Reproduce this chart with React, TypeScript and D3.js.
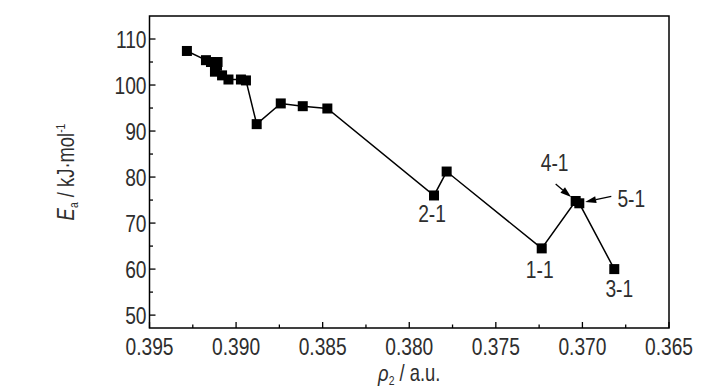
import * as d3 from 'd3'

// rho2 (a.u.) and activation energy (kJ/mol)
const rho = [0.39284, 0.39174, 0.39145, 0.39107, 0.3911, 0.39122, 0.39081, 0.39044, 0.38972, 0.38943,
  0.38881, 0.38742, 0.38615, 0.38473, 0.37857, 0.37784, 0.37235, 0.37039, 0.37018, 0.36816]
const ea = [107.4, 105.4, 105.0, 105.0, 104.2, 102.9, 102.1, 101.2, 101.2, 101.0,
  91.5, 96.0, 95.4, 94.9, 76.0, 81.2, 64.5, 74.8, 74.3, 60.0]

// sample tags and the point they belong to
const tagNames = ['2-1', '1-1', '3-1', '4-1', '5-1']
const tagPoints = [14, 16, 19, 17, 18]

const xTicks = [0.395, 0.39, 0.385, 0.38, 0.375, 0.37, 0.365]
const yTicks = [50, 60, 70, 80, 90, 100, 110]

const W = 728
const H = 390
const margin = { top: 16, right: 59, bottom: 62, left: 149.5 }
const FONT = 'Liberation Sans, Arial, sans-serif'
const TXT = '#2e2e2e'
const FS = 24
const SX = 0.8

const CText = ({ x, y, anchor = 'middle', size = FS, children }: any) => (
  <text transform={`translate(${x},${y}) scale(${SX},1)`} textAnchor={anchor}
    fontSize={size} fontFamily={FONT} fill={TXT}>{children}</text>
)

export default function App() {
  const x = d3.scaleLinear().domain([0.395, 0.365]).range([margin.left, W - margin.right])
  const y = d3.scaleLinear().domain([47.2, 115]).range([H - margin.bottom, margin.top])
  const [x0, x1] = x.range()
  const [y0, y1] = y.range()

  const pts = rho.map((r, i) => [r, ea[i]] as [number, number])
  const line = d3.line<[number, number]>().x(d => x(d[0])).y(d => y(d[1]))

  const xMinor = d3.range(0.3925, 0.365, -0.005)
  const yMinor = d3.range(55, 115, 10)

  // label offsets relative to the point
  const tagOff: Record<string, [number, number]> = {
    '2-1': [-2, 27], '1-1': [-2, 30], '3-1': [5, 28], '4-1': [-21, -30], '5-1': [52, 4],
  }

  return (
    <svg width={W} height={H} style={{ position: 'absolute', left: 0, top: 0, background: '#fff' }}>
      <path d={line(pts) ?? ''} fill="none" stroke="#000" strokeWidth={1.5} />
      {pts.map((d, i) => (
        <rect key={i} x={x(d[0]) - 5} y={y(d[1]) - 5} width={10} height={10} fill="#000" />
      ))}

      {/* arrows for 4-1 and 5-1 */}
      {[[17, -20, -17], [18, 32, -7]].map(([idx, dx, dy], k) => {
        const px = x(rho[idx]), py = y(ea[idx])
        const ang = Math.atan2(dy, dx)
        const tipX = px + Math.cos(ang) * 6, tipY = py + Math.sin(ang) * 6
        const sx = px + dx, sy = py + dy
        const hl = 11, hw = 3.5
        const bx = tipX + Math.cos(ang) * hl, by = tipY + Math.sin(ang) * hl
        const nx = -Math.sin(ang) * hw, ny = Math.cos(ang) * hw
        return (
          <g key={k}>
            <line x1={sx} y1={sy} x2={bx} y2={by} stroke="#000" strokeWidth={1.3} />
            <path d={`M${tipX},${tipY}L${bx + nx},${by + ny}L${bx - nx},${by - ny}Z`} fill="#000" />
          </g>
        )
      })}

      {tagNames.map((t, i) => {
        const p = tagPoints[i]
        const o = tagOff[t]
        return <CText key={t} x={x(rho[p]) + o[0]} y={y(ea[p]) + o[1]}>{t}</CText>
      })}

      {/* frame */}
      <rect x={x0} y={y1} width={x1 - x0} height={y0 - y1} fill="none" stroke="#000" strokeWidth={1.5} />

      {xTicks.map(t => (
        <g key={t}>
          <line x1={x(t)} x2={x(t)} y1={y0} y2={y0 - 6} stroke="#000" strokeWidth={1.3} />
          <CText x={x(t)} y={y0 + 27}>{d3.format('.3f')(t)}</CText>
        </g>
      ))}
      {xMinor.map(t => (
        <line key={t} x1={x(t)} x2={x(t)} y1={y0} y2={y0 - 3.5} stroke="#000" strokeWidth={1.3} />
      ))}
      {yTicks.map(t => (
        <g key={t}>
          <line x1={x0} x2={x0 + 6} y1={y(t)} y2={y(t)} stroke="#000" strokeWidth={1.3} />
          <CText x={x0 - 3} y={y(t) + 8.5} anchor="end">{t}</CText>
        </g>
      ))}
      {yMinor.map(t => (
        <line key={t} x1={x0} x2={x0 + 3.5} y1={y(t)} y2={y(t)} stroke="#000" strokeWidth={1.3} />
      ))}

      {/* axis titles */}
      <text transform={`translate(${(x0 + x1) / 2},${H - 9}) scale(${SX},1)`} textAnchor="middle"
        fontSize={23} fontFamily={FONT} fill={TXT}>
        <tspan fontStyle="italic">ρ</tspan>
        <tspan fontSize={13} dy={4}>2</tspan>
        <tspan dy={-4}> / a.u.</tspan>
      </text>
      <text transform={`translate(74,${(y0 + y1) / 2}) rotate(-90) scale(${SX},1)`} textAnchor="middle"
        fontSize={23} fontFamily={FONT} fill={TXT}>
        <tspan fontStyle="italic">E</tspan>
        <tspan fontSize={13} dy={4}>a</tspan>
        <tspan dy={-4}> / kJ·mol</tspan>
        <tspan fontSize={13} dy={-9}>-1</tspan>
      </text>
    </svg>
  )
}
